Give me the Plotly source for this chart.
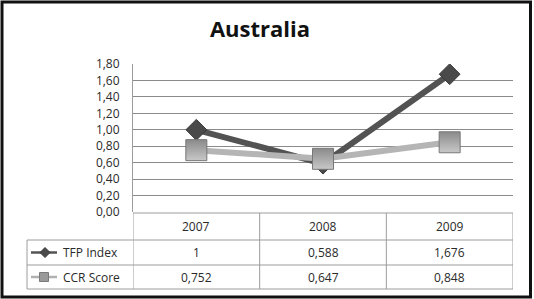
import plotly.graph_objects as go

years = ["2007", "2008", "2009"]
tfp = [1.0, 0.588, 1.676]
ccr = [0.752, 0.647, 0.848]
tfp_labels = ["1", "0,588", "1,676"]
ccr_labels = ["0,752", "0,647", "0,848"]
series_names = ["TFP Index", "CCR Score"]

W, H = 534, 299
L, R, T, B = 133, 513, 64, 212  # plot area in pixels


def px(x):
    return (x - L) / (R - L)


def py(y):
    return (B - y) / (B - T)


fig = go.Figure()
fig.add_trace(go.Scatter(
    x=years, y=tfp, name=series_names[0], mode="lines+markers",
    line=dict(color="#535353", width=6),
    marker=dict(symbol="diamond", size=16, color="#4a4a4a",
                line=dict(color="#3a3a3a", width=1)),
))
fig.add_trace(go.Scatter(
    x=years, y=ccr, name=series_names[1], mode="lines+markers",
    line=dict(color="#b5b5b5", width=6),
    marker=dict(symbol="square", size=21, color="#8a8a8a",
                gradient=dict(type="vertical", color="#c8c8c8"),
                line=dict(color="#777777", width=1)),
))

font = "Open Sans"
txt_col = "#2a2a2a"
shapes = []
annotations = []
grid_col = "#8a8a8a"
tab_col = "#9c9c9c"

# table horizontal lines
for yy in [240, 265, 289]:
    shapes.append(dict(type="line", xref="paper", yref="paper",
                       x0=px(27), x1=1, y0=py(yy), y1=py(yy),
                       line=dict(color=tab_col, width=1)))
# header top line across plot columns
shapes.append(dict(type="line", xref="paper", yref="paper",
                   x0=0, x1=1, y0=py(213), y1=py(213),
                   line=dict(color=tab_col, width=1)))
# vertical lines at category boundaries
for xb in [-0.5, 0.5, 1.5, 2.5]:
    shapes.append(dict(type="line", xref="x", yref="paper",
                       x0=xb, x1=xb, y0=py(213), y1=py(289),
                       line=dict(color=tab_col, width=1)))
# legend column left edge
shapes.append(dict(type="line", xref="paper", yref="paper",
                   x0=px(27), x1=px(27), y0=py(240), y1=py(289),
                   line=dict(color=tab_col, width=1)))


def cell(i, yy, text):
    annotations.append(dict(x=i, y=py(yy), xref="x", yref="paper",
                            xanchor="center", yanchor="middle",
                            text=text, showarrow=False,
                            font=dict(family=font, size=12, color=txt_col)))


for i, yv in enumerate(years):
    cell(i, 226.5, yv)
for i, t in enumerate(tfp_labels):
    cell(i, 252.5, t)
for i, t in enumerate(ccr_labels):
    cell(i, 277, t)

# legend keys
for name, yy, col, sym in [(series_names[0], 252.5, "#555555", "diamond"),
                           (series_names[1], 277, "#b0b0b0", "square")]:
    shapes.append(dict(type="line", xref="paper", yref="paper",
                       x0=px(31), x1=px(57), y0=py(yy), y1=py(yy),
                       line=dict(color=col, width=2.5)))
    if sym == "diamond":
        cx, cy, r = 45, yy, 5
        path = "M {} {} L {} {} L {} {} L {} {} Z".format(
            px(cx - r), py(cy), px(cx), py(cy - r), px(cx + r), py(cy), px(cx), py(cy + r))
        shapes.append(dict(type="path", xref="paper", yref="paper", path=path,
                           fillcolor="#4a4a4a", line=dict(color="#3a3a3a", width=1)))
    else:
        cx, cy, r = 44, yy, 4.5
        shapes.append(dict(type="rect", xref="paper", yref="paper",
                           x0=px(cx - r), x1=px(cx + r), y0=py(cy + r), y1=py(cy - r),
                           fillcolor="#9a9a9a", line=dict(color="#7a7a7a", width=1)))
    annotations.append(dict(x=px(61), y=py(yy), xref="paper", yref="paper",
                            xanchor="left", yanchor="middle", text=name, showarrow=False,
                            font=dict(family=font, size=12, color=txt_col)))

# outer black frame
shapes.append(dict(type="rect", xref="paper", yref="paper",
                   x0=px(2), x1=px(530.5), y0=py(297), y1=py(2),
                   line=dict(color="#111111", width=3), fillcolor="rgba(0,0,0,0)",
                   layer="above"))

fig.update_layout(
    width=W, height=H,
    margin=dict(l=L, r=W - R, t=T, b=H - B, pad=0),
    paper_bgcolor="white", plot_bgcolor="white",
    separators=", ",
    showlegend=False,
    title=dict(text="<b>Australia</b>", x=260 / W, xref="container", xanchor="center",
               y=1 - 29 / H, yanchor="middle", yref="container",
               font=dict(family=font, size=22, color="#111111")),
    xaxis=dict(type="category", range=[-0.5, 2.5], showticklabels=False,
               showgrid=False, zeroline=False, showline=False, ticks=""),
    yaxis=dict(range=[0, 1.8], dtick=0.2, tick0=0, tickformat=".2f",
               showgrid=True, gridcolor=grid_col, gridwidth=1,
               zeroline=False, showline=True, linecolor=tab_col, linewidth=1,
               ticks="", ticklabelstandoff=10,
               tickfont=dict(family=font, size=12, color=txt_col)),
    shapes=shapes, annotations=annotations,
)

fig.write_html("out.html")
